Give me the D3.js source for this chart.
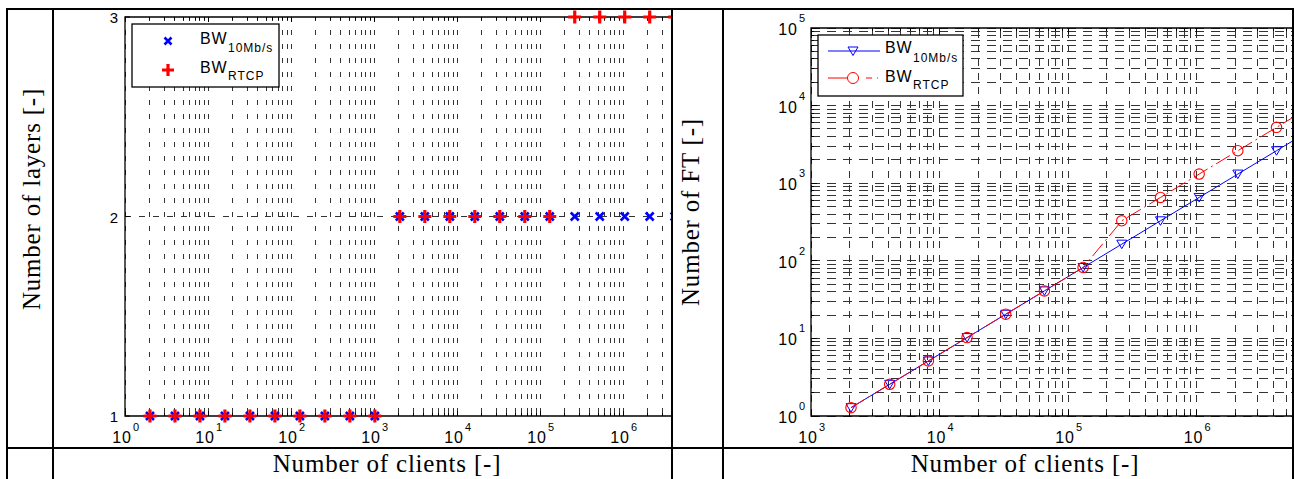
<!DOCTYPE html>
<html>
<head>
<meta charset="utf-8">
<script src="https://cdn.jsdelivr.net/npm/d3@7"></script>
<style>
  body { margin: 0; background: #fff; }
  svg { display: block; }
  .tick { font-family: "Liberation Sans", Arial, sans-serif; fill: #000; }
  .lbl { font-family: "Liberation Serif", "Times New Roman", serif; font-size: 25px; letter-spacing: 0.8px; fill: #000; }
  .grid line { shape-rendering: crispEdges; }
</style>
</head>
<body>
<div id="chart"></div>
<script>
// ---- data ----
// left: number of layers vs number of clients
var clientsL = [2, 4, 8, 16, 32, 64, 128, 256, 512, 1024, 2048, 4096, 8192, 16384,
                32768, 65536, 131072, 262144, 524288, 1048576, 2097152, 4194304];
var layers10 = [1, 1, 1, 1, 1, 1, 1, 1, 1, 1, 2, 2, 2, 2, 2, 2, 2, 2, 2, 2, 2, 2];
var layersRTCP = [1, 1, 1, 1, 1, 1, 1, 1, 1, 1, 2, 2, 2, 2, 2, 2, 2, 3, 3, 3, 3, 3];

// right: number of FT vs number of clients
var clientsR = [2048, 4096, 8192, 16384, 32768, 65536, 131072, 262144, 524288,
                1048576, 2097152, 4194304, 8388608];
var ft10 = [1.28, 2.56, 5.12, 10.24, 20.48, 40.96, 81.92, 163.84, 327.68,
            655.36, 1310.72, 2621.44, 5242.88];
var ftRTCP = [1.28, 2.56, 5.12, 10.24, 20.48, 40.96, 81.92, 327.68, 655.36,
              1310.72, 2621.44, 5242.88, 10485.76];

var layerTicks = [1, 2, 3];
var seriesNames = ["10Mb/s", "RTCP"];

var W = 1294, H = 479;
var svg = d3.select("#chart").append("svg")
  .attr("width", W).attr("height", H);

// table cells
var T = {left: 7, top: 9, right: 1293, c1: 53, c2: 672, c3: 723, row: 448, bottom: 490};

var defs = svg.append("defs");
defs.append("clipPath").attr("id", "clipL").append("rect")
  .attr("x", T.c1).attr("y", T.top).attr("width", T.c2 - T.c1).attr("height", T.row - T.top);
defs.append("clipPath").attr("id", "clipR").append("rect")
  .attr("x", T.c3).attr("y", T.top).attr("width", T.right - T.c3).attr("height", T.row - T.top);

function isMajor(v) {
  var l = Math.log10(v);
  return Math.abs(l - Math.round(l)) < 1e-9;
}

// "10" with a superscript exponent, roughly centred on x
function powLabel(g, x, y, exp) {
  g.append("text").attr("class", "tick").attr("font-size", 16).attr("letter-spacing", 1)
    .attr("text-anchor", "end").attr("x", x + 8).attr("y", y).text("10");
  g.append("text").attr("class", "tick").attr("font-size", 11)
    .attr("x", x + 9).attr("y", y - 12).text(exp);
}

// ================= LEFT CHART =================
var gL = svg.append("g").attr("clip-path", "url(#clipL)");
var xL = d3.scaleLog().domain([1, 1e7]).range([125, 706]);
var yL = d3.scaleLinear().domain([1, 3]).range([416, 17]);

// vertical grid
gL.append("g").attr("class", "grid").selectAll("line")
  .data(xL.ticks())
  .enter().append("line")
    .attr("x1", function(d) { return xL(d); })
    .attr("x2", function(d) { return xL(d); })
    .attr("y1", yL(1) - 3).attr("y2", yL(3))
    .attr("stroke", "#333").attr("stroke-width", 1)
    .attr("stroke-dasharray", "5,9");
// horizontal grid
gL.append("g").attr("class", "grid").append("line")
  .attr("x1", xL(1)).attr("x2", xL(1e7))
  .attr("y1", yL(2)).attr("y2", yL(2))
  .attr("stroke", "#333").attr("stroke-dasharray", "6,8");

// ticks (inside)
gL.append("g").attr("class", "grid").selectAll("line")
  .data(xL.ticks())
  .enter().append("line")
    .attr("x1", function(d) { return xL(d); })
    .attr("x2", function(d) { return xL(d); })
    .attr("y1", yL(1)).attr("y2", function(d) { return yL(1) - (isMajor(d) ? 5 : 3); })
    .attr("stroke", "#000");
gL.append("g").attr("class", "grid").selectAll("line")
  .data(xL.ticks())
  .enter().append("line")
    .attr("x1", function(d) { return xL(d); })
    .attr("x2", function(d) { return xL(d); })
    .attr("y1", yL(3)).attr("y2", function(d) { return yL(3) + (isMajor(d) ? 5 : 3); })
    .attr("stroke", "#000");
gL.append("g").selectAll("line")
  .data(layerTicks)
  .enter().append("line")
    .attr("x1", xL(1)).attr("x2", xL(1) + 5)
    .attr("y1", function(d) { return yL(d); })
    .attr("y2", function(d) { return yL(d); })
    .attr("stroke", "#000");

// axes box
gL.append("path")
  .attr("d", "M" + xL(1e7) + "," + yL(3) + "H" + xL(1) + "V" + yL(1) + "H" + xL(1e7))
  .attr("fill", "none").attr("stroke", "#000").attr("stroke-width", 1.3);

// labels
gL.selectAll(".ylab")
  .data(layerTicks)
  .enter().append("text")
    .attr("class", "tick").attr("font-size", 15)
    .attr("text-anchor", "end")
    .attr("x", xL(1) - 7)
    .attr("y", function(d) { return yL(d) + 6; })
    .text(function(d) { return d; });
xL.ticks().filter(isMajor).forEach(function(d) {
  if (xL(d) < T.c2) powLabel(gL, xL(d) - 1, 443, Math.round(Math.log10(d)));
});

// markers
var ptsL = clientsL.map(function(c, i) { return {c: c, a: layers10[i], b: layersRTCP[i]}; });
gL.append("g").selectAll("path")
  .data(ptsL)
  .enter().append("path")
    .attr("transform", function(d) { return "translate(" + xL(d.c) + "," + yL(d.a) + ")"; })
    .attr("d", "M-4,-4L4,4M-4,4L4,-4")
    .attr("stroke", "#0000ff").attr("stroke-width", 2.6).attr("fill", "none");
gL.append("g").selectAll("path")
  .data(ptsL)
  .enter().append("path")
    .attr("transform", function(d) { return "translate(" + xL(d.c) + "," + yL(d.b) + ")"; })
    .attr("d", "M-6.5,0H6.5M0,-6.5V6.5")
    .attr("stroke", "#ff0000").attr("stroke-width", 3.2).attr("fill", "none");

// legend
var lgL = gL.append("g");
lgL.append("rect").attr("x", 132).attr("y", 24).attr("width", 147).attr("height", 63)
  .attr("fill", "#fff").attr("stroke", "#000").attr("stroke-width", 1.3);
lgL.append("path").attr("transform", "translate(168,41)")
  .attr("d", "M-3.5,-3.5L3.5,3.5M-3.5,3.5L3.5,-3.5")
  .attr("stroke", "#0000ff").attr("stroke-width", 2.6);
lgL.append("path").attr("transform", "translate(168,70)")
  .attr("d", "M-6,0H6M0,-6V6")
  .attr("stroke", "#ff0000").attr("stroke-width", 3.2);
[[43.5, 52, seriesNames[0]], [72.5, 80, seriesNames[1]]].forEach(function(r) {
  lgL.append("text").attr("class", "tick").attr("font-size", 16).attr("letter-spacing", 0.8)
    .attr("x", 200).attr("y", r[0]).text("BW");
  lgL.append("text").attr("class", "tick").attr("font-size", 12).attr("letter-spacing", 1)
    .attr("x", 228).attr("y", r[1]).text(r[2]);
});

// ================= RIGHT CHART =================
var gR = svg.append("g").attr("clip-path", "url(#clipR)");
var xR = d3.scaleLog().domain([1e3, 1e7]).range([811, 811 + 4 * 128.5]);
var yR = d3.scaleLog().domain([1, 1e5]).range([416, 28]);

gR.append("g").attr("class", "grid").selectAll("line")
  .data(xR.ticks())
  .enter().append("line")
    .attr("x1", function(d) { return xR(d); })
    .attr("x2", function(d) { return xR(d); })
    .attr("y1", yR(1)).attr("y2", yR(1e5))
    .attr("stroke", "#333").attr("stroke-dasharray", "7,7");
gR.append("g").attr("class", "grid").selectAll("line")
  .data(yR.ticks())
  .enter().append("line")
    .attr("x1", xR(1e3)).attr("x2", xR(1e7))
    .attr("y1", function(d) { return yR(d); })
    .attr("y2", function(d) { return yR(d); })
    .attr("stroke", "#333").attr("stroke-dasharray", "9,7");

// ticks
gR.append("g").attr("class", "grid").selectAll("line")
  .data(xR.ticks())
  .enter().append("line")
    .attr("x1", function(d) { return xR(d); })
    .attr("x2", function(d) { return xR(d); })
    .attr("y1", yR(1)).attr("y2", function(d) { return yR(1) - (isMajor(d) ? 6 : 3); })
    .attr("stroke", "#000");
gR.append("g").attr("class", "grid").selectAll("line")
  .data(xR.ticks())
  .enter().append("line")
    .attr("x1", function(d) { return xR(d); })
    .attr("x2", function(d) { return xR(d); })
    .attr("y1", yR(1e5)).attr("y2", function(d) { return yR(1e5) + (isMajor(d) ? 6 : 3); })
    .attr("stroke", "#000");
gR.append("g").attr("class", "grid").selectAll("line")
  .data(yR.ticks())
  .enter().append("line")
    .attr("x1", xR(1e3)).attr("x2", function(d) { return xR(1e3) + (isMajor(d) ? 6 : 3); })
    .attr("y1", function(d) { return yR(d); })
    .attr("y2", function(d) { return yR(d); })
    .attr("stroke", "#000");

gR.append("path")
  .attr("d", "M" + xR(1e7) + "," + yR(1e5) + "H" + xR(1e3) + "V" + yR(1) + "H" + xR(1e7))
  .attr("fill", "none").attr("stroke", "#000").attr("stroke-width", 1.3);

xR.ticks().filter(isMajor).forEach(function(d) {
  if (xR(d) < T.right - 10) powLabel(gR, xR(d) - 1, 443, Math.round(Math.log10(d)));
});
yR.ticks().filter(isMajor).forEach(function(d) {
  var y = yR(d);
  gR.append("text").attr("class", "tick").attr("font-size", 16).attr("letter-spacing", 1)
    .attr("text-anchor", "end").attr("x", 798).attr("y", y + 7).text("10");
  gR.append("text").attr("class", "tick").attr("font-size", 11)
    .attr("x", 799).attr("y", y - 6).text(Math.round(Math.log10(d)));
});

// lines
var lineB = d3.line()
  .x(function(d, i) { return xR(clientsR[i]); })
  .y(function(d) { return yR(d); });
gR.append("path").datum(ft10).attr("d", lineB)
  .attr("fill", "none").attr("stroke", "#0000ff").attr("stroke-width", 1);
gR.append("g").selectAll("path")
  .data(ft10)
  .enter().append("path")
    .attr("transform", function(d, i) { return "translate(" + xR(clientsR[i]) + "," + yR(d) + ")"; })
    .attr("d", "M-5,-4L5,-4L0,4.5Z")
    .attr("fill", "none").attr("stroke", "#0000ff").attr("stroke-width", 1);
gR.append("path").datum(ftRTCP).attr("d", lineB)
  .attr("fill", "none").attr("stroke", "#ff0000").attr("stroke-width", 1)
  .attr("stroke-dasharray", "16,4,2,4");
gR.append("g").selectAll("circle")
  .data(ftRTCP)
  .enter().append("circle")
    .attr("cx", function(d, i) { return xR(clientsR[i]); })
    .attr("cy", function(d) { return yR(d); })
    .attr("r", 5.2)
    .attr("fill", "none").attr("stroke", "#ff0000").attr("stroke-width", 1.1);

// legend
var lgR = gR.append("g");
lgR.append("rect").attr("x", 818).attr("y", 35).attr("width", 145).attr("height", 61)
  .attr("fill", "#fff").attr("stroke", "#000").attr("stroke-width", 1.3);
lgR.append("line").attr("x1", 828).attr("x2", 880).attr("y1", 51).attr("y2", 51)
  .attr("stroke", "#0000ff");
lgR.append("path").attr("transform", "translate(853,51)").attr("d", "M-5,-4L5,-4L0,4.5Z")
  .attr("fill", "none").attr("stroke", "#0000ff");
lgR.append("line").attr("x1", 828).attr("x2", 880).attr("y1", 78).attr("y2", 78)
  .attr("stroke", "#ff0000").attr("stroke-dasharray", "20,18,6,5,1,10");
lgR.append("circle").attr("cx", 853).attr("cy", 78).attr("r", 5.5)
  .attr("fill", "#fff").attr("stroke", "#ff0000");
[[53, 62, seriesNames[0]], [82, 89, seriesNames[1]]].forEach(function(r) {
  lgR.append("text").attr("class", "tick").attr("font-size", 16).attr("letter-spacing", 0.8)
    .attr("x", 885).attr("y", r[0]).text("BW");
  lgR.append("text").attr("class", "tick").attr("font-size", 12).attr("letter-spacing", 1)
    .attr("x", 913).attr("y", r[1]).text(r[2]);
});

// ================= AXIS TITLES =================
svg.append("text").attr("class", "lbl").attr("text-anchor", "middle")
  .attr("x", 387).attr("y", 472).text("Number of clients [-]");
svg.append("text").attr("class", "lbl").attr("text-anchor", "middle")
  .attr("x", 1025).attr("y", 472).text("Number of clients [-]");
svg.append("text").attr("class", "lbl").attr("text-anchor", "middle")
  .attr("transform", "translate(40,199) rotate(-90)").text("Number of layers [-]");
svg.append("text").attr("class", "lbl").attr("text-anchor", "middle")
  .attr("transform", "translate(699,212) rotate(-90)").text("Number of FT [-]");

// ================= TABLE BORDERS =================
var tb = svg.append("g").attr("stroke", "#000").attr("stroke-width", 2).attr("fill", "none");
tb.append("path").attr("d",
  "M" + T.left + "," + T.bottom + "V" + T.top + "H" + T.right + "V" + T.bottom);
[T.c1, T.c2, T.c3].forEach(function(x) {
  tb.append("line").attr("x1", x).attr("x2", x).attr("y1", T.top).attr("y2", T.bottom);
});
tb.append("line").attr("x1", T.left).attr("x2", T.right).attr("y1", T.row).attr("y2", T.row);
</script>
</body>
</html>
